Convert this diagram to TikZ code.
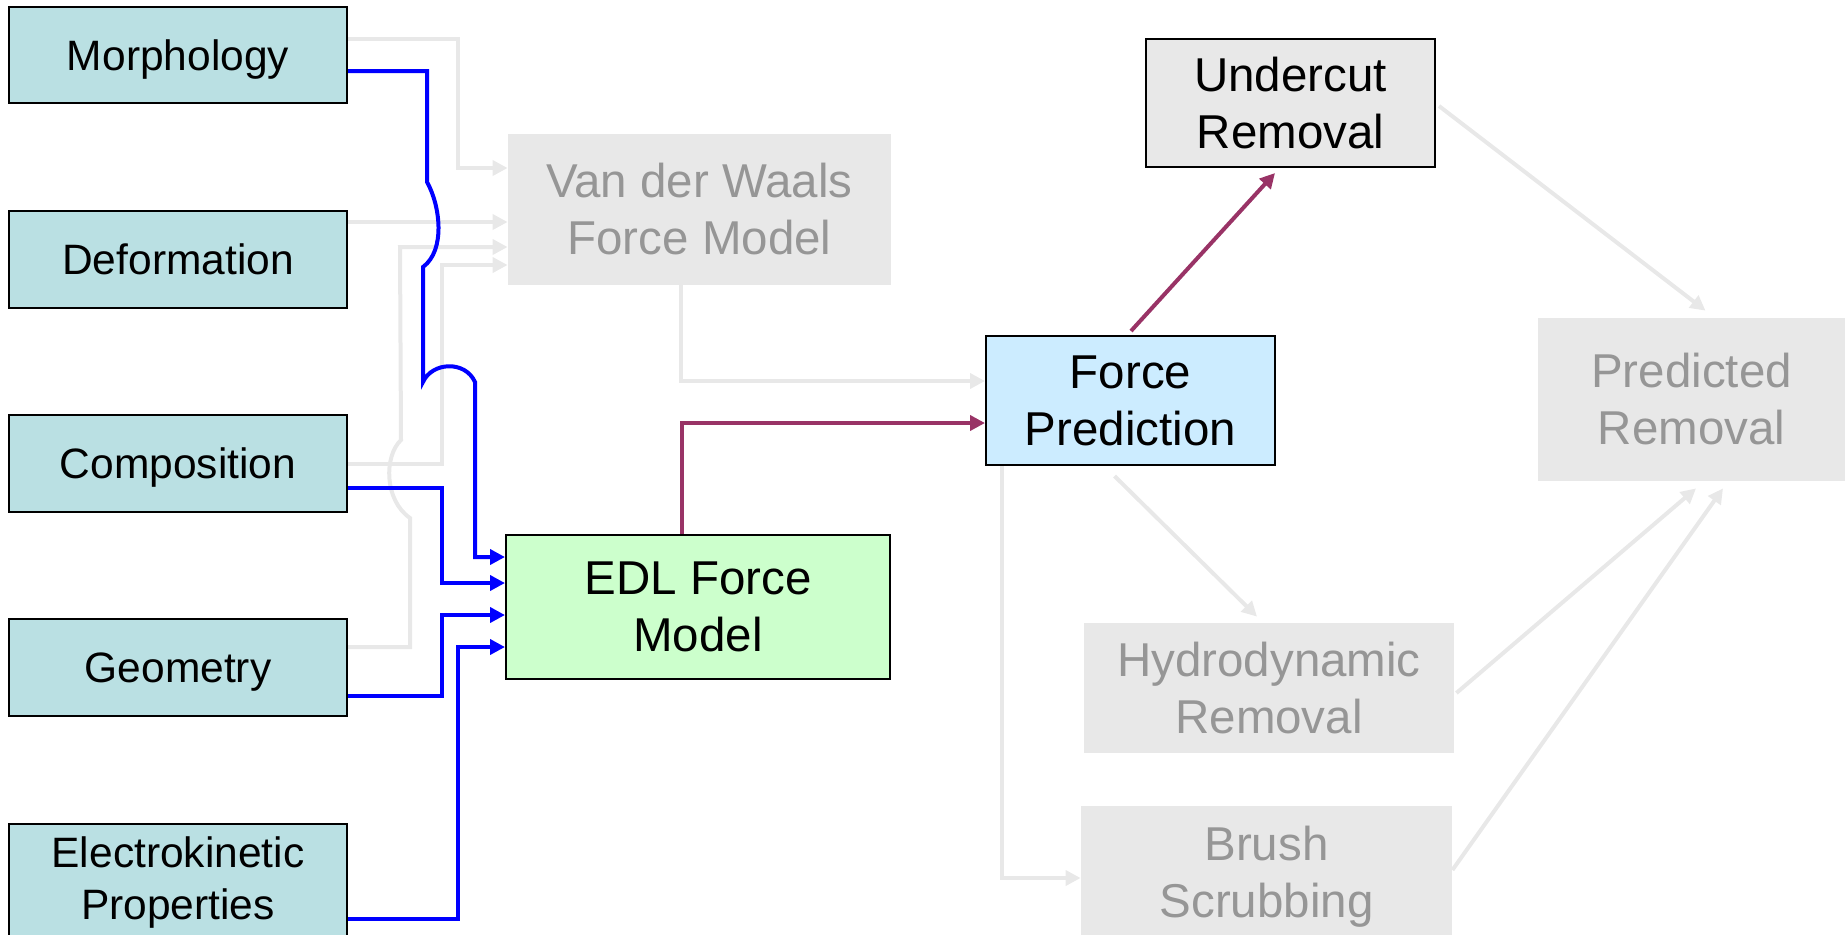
\documentclass[tikz,border=0pt]{standalone}
\usepackage{fontspec}
\setmainfont{Liberation Sans}
\usetikzlibrary{arrows.meta,calc}
\definecolor{tealbox}{HTML}{BAE0E3}
\definecolor{edlgreen}{HTML}{CCFFCC}
\definecolor{fpblue}{HTML}{CCECFF}
\definecolor{lgrey}{HTML}{E8E8E8}
\definecolor{tgrey}{HTML}{969696}
\definecolor{maroon}{HTML}{993366}
\definecolor{pblue}{HTML}{0000FF}
\tikzset{
  leftbox/.style={draw=black, line width=1pt, fill=tealbox, inner sep=0pt, align=center,
    minimum width=169pt, minimum height=48.5pt, font=\fontsize{21.25}{26}\selectfont},
  oneline/.style={text height=15.3pt, text depth=0pt},
  bigbox/.style={draw=black, line width=1pt, inner sep=0pt, align=center,
    font=\fontsize{23.75}{28.5}\selectfont},
  greybox/.style={fill=lgrey, text=tgrey, inner sep=0pt, align=center,
    font=\fontsize{23.75}{28.5}\selectfont},
  greyline/.style={draw=lgrey, line width=2pt, -{Triangle[length=7.5pt,width=7.5pt]}},
  blueline/.style={draw=pblue, line width=2pt, -{Triangle[length=7.5pt,width=7.5pt]}},
  maroonline/.style={draw=maroon, line width=2pt, -{Triangle[length=7.5pt,width=7.5pt]}},
}
\begin{document}
\begin{tikzpicture}[x=0.5pt,y=-0.5pt]
\useasboundingbox (0,0) rectangle (1848,934);
\clip (0,0) rectangle (1848,934);
% left boxes
\node[leftbox, oneline, minimum height=48pt] (morph) at (178,55) {Morphology};
\node[leftbox, oneline] (def) at (178,259.5) {Deformation};
\node[leftbox, oneline] (comp) at (178,463.5) {Composition};
\node[leftbox, oneline] (geom) at (178,667.5) {Geometry};
\node[leftbox, minimum height=59pt] (elec) at (178,882.5) {Electrokinetic\\Properties};
% middle
\node[greybox, minimum width=191.5pt, minimum height=75.5pt] (vdw) at (699.5,209.5) {Van der Waals\\Force Model};
\node[bigbox, fill=edlgreen, minimum width=192pt, minimum height=72pt] (edl) at (698,607) {EDL Force\\Model};
\node[bigbox, fill=fpblue, minimum width=144.5pt, minimum height=64.5pt] (fp) at (1130.5,400.5) {Force\\Prediction};
\node[bigbox, fill=lgrey, minimum width=144.5pt, minimum height=64pt] (uc) at (1290.5,103) {Undercut\\Removal};
\node[greybox, minimum width=153.5pt, minimum height=81.5pt] (pred) at (1691.5,399.5) {Predicted\\Removal};
\node[greybox, minimum width=185pt, minimum height=65pt] (hydro) at (1269,688) {Hydrodynamic\\Removal};
\node[greybox, minimum width=185.5pt, minimum height=71pt] (brush) at (1266.5,877) {Brush\\Scrubbing};
% grey connectors
\draw[greyline] (morph.east |- 0,39) -- (458,39) -- (458,168) -- (vdw.west |- 0,168);
\draw[greyline] (def.east |- 0,222) -- (vdw.west |- 0,222);
\draw[greyline] (comp.east |- 0,464) -- (442,464) -- (442,265) -- (vdw.west |- 0,265);
\draw[greyline] (geom.east |- 0,647) -- (410,647) -- (410,518)
   .. controls (384,500) and (384,456) .. (401,440) -- (400,247) -- (vdw.west |- 0,247);
\draw[greyline] (vdw.south -| 681,0) -- (681,381) -- (fp.west |- 0,381);
\draw[greyline] (fp.south -| 1002,0) -- (1002,878) -- (brush.west |- 0,878);
\draw[greyline] ($(fp.south)+(-16,10)$) -- ($(hydro.north)+(-12,-6)$);
\draw[greyline] ($(uc.east)+(3,3)$) -- ($(pred.north)+(14,-7)$);
\draw[greyline] ($(hydro.east)+(2,5)$) -- ($(pred.south)+(4.5,7)$);
\draw[greyline] ($(brush.east)+(0,-7)$) -- ($(pred.south)+(31.5,7)$);
% blue connectors
\draw[blueline] (morph.east |- 0,71) -- (427,71) -- (427,182)
   .. controls (440,205) and (446,250) .. (423,267) -- (423,382)
   .. controls (432,362) and (465,360) .. (475,382) -- (475,557) -- (edl.west |- 0,557);
\draw[blueline] (comp.east |- 0,488) -- (442,488) -- (442,583) -- (edl.west |- 0,583);
\draw[blueline] (geom.east |- 0,696) -- (442,696) -- (442,615) -- (edl.west |- 0,615);
\draw[blueline] (elec.east |- 0,919) -- (458,919) -- (458,647) -- (edl.west |- 0,647);
% maroon connectors
\draw[maroonline] (edl.north -| 682,0) -- (682,423) -- (fp.west |- 0,423);
\draw[maroonline] ($(fp.north)+(0.5,-4)$) -- ($(uc.south)+(-15.5,5)$);
\end{tikzpicture}
\end{document}
